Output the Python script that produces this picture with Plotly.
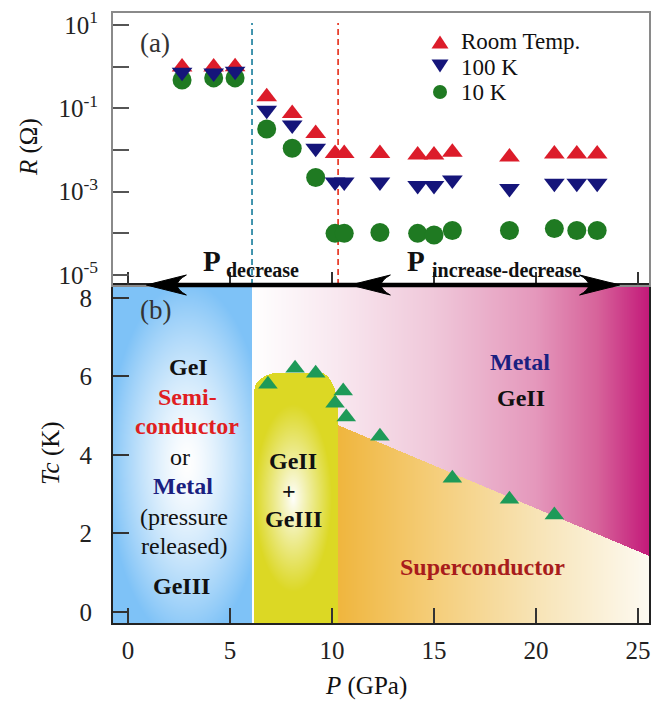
import base64, struct, zlib
import numpy as np
import plotly.graph_objects as go

# ---------------- data ----------------
P_R = [2.65, 4.2, 5.25, 6.8, 8.05, 9.2, 10.15, 10.6, 12.35, 14.2, 15.0, 15.9, 18.7, 20.9, 22.0, 23.0]
R_room = [0.98, 0.98, 1.0, 0.19, 0.075, 0.025, 0.0083, 0.0083, 0.0083, 0.0076, 0.0076, 0.0089, 0.0068, 0.008, 0.008, 0.008]
R_100K = [0.74, 0.71, 0.78, 0.09, 0.04, 0.011, 0.0017, 0.0017, 0.0017, 0.0014, 0.0014, 0.0019, 0.0012, 0.0016, 0.0016, 0.0016]
R_10K = [0.48, 0.54, 0.54, 0.032, 0.011, 0.0022, 1.0e-4, 1.0e-4, 1.05e-4, 1.0e-4, 0.91e-4, 1.17e-4, 1.17e-4, 1.3e-4, 1.17e-4, 1.17e-4]

P_Tc = [6.86, 8.19, 9.2, 10.15, 10.55, 10.7, 12.35, 15.9, 18.7, 20.9]
Tc = [5.80, 6.21, 6.08, 5.32, 5.63, 4.97, 4.48, 3.41, 2.87, 2.47]

x_ticks = [0, 5, 10, 15, 20, 25]
tc_ticks = [0, 2, 4, 6, 8]
r_label_exp = [1, -1, -3, -5]
r_minor_exp = [0, -2, -4]

series_names = ["Room Temp.", "100 K", "10 K"]
series_colors = ["#dc1c2a", "#15157a", "#1f7a22"]

# phase boundaries
P_low = 6.08        # blue dashed line
P_high = 10.3       # red dashed line
SC_line_P = [10.3, 25.54]
SC_line_T = [4.76, 1.43]

# ---------------- geometry ----------------
OFF = 8  # page body margin
XMIN, XMAX = -0.735, 25.54
YMIN2, YMAX2 = -0.28, 8.33
LOGMIN, LOGMAX = -5.24, 1.29
L, R, T, B = 113 - OFF, 13, 13 - OFF, 82
W_FIG, H_FIG = 662 - OFF, 705 - OFF
PW, PH = W_FIG - L - R, H_FIG - T - B
D = (623 - 285) / PH

def fx(px):
    return (px - OFF - L) / PW

def fy(py):
    return (H_FIG - B - (py - OFF)) / PH

SERIF = "Liberation Serif"

# ---------------- background image for panel (b) ----------------
IW, IH = 536, 338
Pg = XMIN + (np.arange(IW) + 0.5) * (XMAX - XMIN) / IW
Tg = YMAX2 - (np.arange(IH) + 0.5) * (YMAX2 - YMIN2) / IH
PP, TT = np.meshgrid(Pg, Tg)

def interp_col(v, stops, cols):
    cols = np.array(cols, float)
    return np.stack([np.interp(v, stops, cols[:, k]) for k in range(3)], axis=-1)

img = interp_col(PP, [6.08, 10.3, 15, 20, 23, 25.54],
                 [(255, 255, 255), (249, 232, 240), (240, 200, 218), (229, 152, 188), (215, 100, 155), (196, 26, 122)])

blue = np.array([126, 194, 247], float)
dB = np.sqrt(((PP - 2.9) / 3.9) ** 2 + ((TT - 3.8) / 4.6) ** 2)
sB = np.clip(dB, 0, 1) ** 1.4
blue_img = 255 + (blue - 255) * sB[..., None]
mB = PP < P_low
img[mB] = blue_img[mB]

Pl, Pr, top = 6.2, 10.3, 6.1
rxl, ryl, rxr, ryr = 1.3, 0.45, 0.9, 1.0
Ttop = np.full_like(PP, top)
lc = PP < Pl + rxl
Ttop[lc] = (top - ryl) + ryl * np.sqrt(np.clip(1 - ((Pl + rxl - PP[lc]) / rxl) ** 2, 0, 1))
rc = PP > Pr - rxr
Ttop[rc] = (top - ryr) + ryr * np.sqrt(np.clip(1 - ((PP[rc] - (Pr - rxr)) / rxr) ** 2, 0, 1))
mY = (PP >= Pl) & (PP <= Pr) & (TT <= Ttop)
yellow = np.array([220, 216, 36], float)
dY = np.sqrt(((PP - 8.1) / 1.9) ** 2 + ((TT - 2.9) / 2.4) ** 2)
sY = np.clip(dY, 0, 1) ** 0.9
yel_img = 255 + (yellow - 255) * sY[..., None]
img[mY] = yel_img[mY]

Tline = np.interp(PP, SC_line_P, SC_line_T)
mO = (PP >= P_high) & (TT <= Tline)
org_img = interp_col(PP, [10.3, 15, 20, 25.54],
                     [(240, 182, 62), (245, 206, 122), (248, 228, 182), (253, 250, 241)])
img[mO] = org_img[mO]

img = np.clip(img, 0, 255).astype(np.uint8)

def to_png(a):
    h, w, _ = a.shape
    raw = b"".join(b"\x00" + a[i].tobytes() for i in range(h))
    def chunk(tag, data):
        c = tag + data
        return struct.pack(">I", len(data)) + c + struct.pack(">I", zlib.crc32(c) & 0xffffffff)
    return (b"\x89PNG\r\n\x1a\n" + chunk(b"IHDR", struct.pack(">IIBBBBB", w, h, 8, 2, 0, 0, 0))
            + chunk(b"IDAT", zlib.compress(raw, 9)) + chunk(b"IEND", b""))

src = "data:image/png;base64," + base64.b64encode(to_png(img)).decode()

# ---------------- figure ----------------
fig = go.Figure()

fig.add_trace(go.Scatter(x=P_R, y=R_room, mode="markers", name=series_names[0], showlegend=False,
                         marker=dict(symbol="triangle-up", size=18, color=series_colors[0]),
                         xaxis="x2", yaxis="y"))
fig.add_trace(go.Scatter(x=P_R, y=R_10K, mode="markers", name=series_names[2], showlegend=False,
                         marker=dict(symbol="circle", size=19, color=series_colors[2]),
                         xaxis="x2", yaxis="y"))
fig.add_trace(go.Scatter(x=P_R, y=R_100K, mode="markers", name=series_names[1], showlegend=False,
                         marker=dict(symbol="triangle-down", size=18, color=series_colors[1]),
                         xaxis="x2", yaxis="y"))
fig.add_trace(go.Scatter(x=P_Tc, y=Tc, mode="markers", showlegend=False,
                         marker=dict(symbol="triangle-up", size=17, color="#1e9a58"),
                         xaxis="x", yaxis="y2"))

axis_font = dict(family=SERIF, size=25, color="#222")

shapes = []
for p, c in [(P_low, "#2f8aa6"), (P_high, "#e8412e")]:
    shapes.append(dict(type="line", xref="x2", yref="paper", x0=p, x1=p, y0=fy(285), y1=fy(23),
                       line=dict(color=c, width=1.8, dash="6px,4px"), layer="below"))
    shapes.append(dict(type="line", xref="x", yref="y2", x0=p, x1=p, y0=YMIN2 + 0.05, y1=YMAX2,
                       line=dict(color=c, width=1.8, dash="6px,4px"), layer="below"))
shapes.append(dict(type="line", xref="x", yref="y2", x0=SC_line_P[0], x1=SC_line_P[1],
                   y0=SC_line_T[0], y1=SC_line_T[1], line=dict(color="#c4c4cc", width=2.5), layer="below"))

ya = fy(285)
shapes.append(dict(type="line", xref="x", yref="paper", x0=1.3, x1=23.8, y0=ya, y1=ya,
                   line=dict(color="black", width=4.5)))
hl = 40 / PW * (XMAX - XMIN)
hh = 10 / PH
def head(tip, direction):
    b = tip + direction * hl
    return f"M{tip},{ya} L{b},{ya + hh} Q{tip + direction * hl * 0.55},{ya} {b},{ya - hh} Z"
for tip, d in [(0.9, 1), (10.9, 1), (24.1, -1)]:
    shapes.append(dict(type="path", xref="x", yref="paper", path=head(tip, d),
                       fillcolor="black", line=dict(color="black", width=1)))

def tri(cx, cy, w, h, up, color):
    x0, x1 = fx(cx - w / 2), fx(cx + w / 2)
    yb, yt = fy(cy + h / 2), fy(cy - h / 2)
    if up:
        path = f"M{x0},{yb} L{x1},{yb} L{fx(cx)},{yt} Z"
    else:
        path = f"M{x0},{yt} L{x1},{yt} L{fx(cx)},{yb} Z"
    return dict(type="path", xref="paper", yref="paper", path=path, fillcolor=color,
                line=dict(color=color, width=0))

leg_rows = [42, 67, 92]
shapes.append(tri(440, leg_rows[0], 17, 13, True, series_colors[0]))
shapes.append(tri(440, leg_rows[1] - 1, 17, 13, False, series_colors[1]))
shapes.append(dict(type="circle", xref="paper", yref="paper", x0=fx(433), x1=fx(447),
                   y0=fy(leg_rows[2] + 7), y1=fy(leg_rows[2] - 7), fillcolor=series_colors[2],
                   line=dict(color=series_colors[2], width=0)))

ann = []
def A(text, px, py, size=24, color="#111", bold=False, angle=0, xanchor="center"):
    t = "<b>" + text + "</b>" if bold else text
    ann.append(dict(text=t, x=fx(px), y=fy(py), xref="paper", yref="paper", showarrow=False,
                    xanchor=xanchor, yanchor="middle", textangle=angle,
                    font=dict(family=SERIF, size=size, color=color)))

for name, row in zip(series_names, leg_rows):
    A(name, 459, row, size=23, color="#111", xanchor="left")

A("(a)", 155, 43, size=27, color="#333")
A("(b)", 155, 310, size=27, color="#333")
A("P", 212, 261, size=29, bold=True)
A("decrease", 224, 270, size=20, bold=True, xanchor="left")
A("P", 416, 261, size=29, bold=True)
A("increase-decrease", 430, 270, size=20, bold=True, xanchor="left")

A("GeI", 188, 367, bold=True)
A("Semi-", 187, 397, color="#e01e22", bold=True)
A("conductor", 187, 426, color="#e01e22", bold=True)
A("or", 180, 457)
A("Metal", 183, 486, color="#1a2080", bold=True)
A("(pressure", 184, 517)
A("released)", 184, 546)
A("GeIII", 181, 586, bold=True)
A("GeII", 293, 461, bold=True)
A("+", 289, 491, bold=True)
A("GeIII", 293, 519, bold=True)
A("Metal", 520, 362, color="#1a2080", bold=True)
A("GeII", 521, 398, bold=True)
A("Superconductor", 482, 567, color="#a81c1c", bold=True)

A("<i>R</i> (Ω)", 29, 147, size=25, angle=-90)
A("<i>Tc</i> (K)", 51, 453, size=25, angle=-90)
A("<i>P</i> (GPa)", 366, 686, size=25)

r_vals = [10.0 ** e for e in r_label_exp]
r_text = ["10<sup>%d</sup>" % e for e in r_label_exp]
r_minor = [10.0 ** e for e in r_minor_exp]

fig.update_layout(
    width=W_FIG, height=H_FIG,
    margin=dict(l=L, r=R, t=T, b=B, autoexpand=False),
    paper_bgcolor="white", plot_bgcolor="rgba(0,0,0,0)",
    font=dict(family=SERIF, color="#222"),
    showlegend=False,
    xaxis=dict(domain=[0, 1], anchor="y2", range=[XMIN, XMAX], tickvals=x_ticks, automargin=False,
               ticks="inside", ticklen=15, tickwidth=1.5, tickcolor="#333", ticklabeloverflow="allow",
               showline=True, mirror=True, linecolor="#222", linewidth=2,
               showgrid=False, zeroline=False, tickfont=axis_font, ticklabelstandoff=4),
    xaxis2=dict(domain=[0, 1], anchor="y", matches="x", range=[XMIN, XMAX], tickvals=x_ticks,
                automargin=False, ticks="inside", ticklen=13, tickwidth=1.5, tickcolor="#333",
                showticklabels=False, showline=True, mirror=True, linecolor="#8a8a8a", linewidth=2,
                showgrid=False, zeroline=False),
    yaxis=dict(domain=[D, 1], anchor="x2", type="log", range=[LOGMIN, LOGMAX], automargin=False,
               tickvals=r_vals, ticktext=r_text, ticks="inside", ticklen=16, tickwidth=1.5,
               tickcolor="#555", showline=True, mirror=True, linecolor="#8a8a8a", linewidth=2,
               ticklabeloverflow="allow",
               minor=dict(tickvals=r_minor, ticks="inside", ticklen=16, tickwidth=1.5, tickcolor="#555",
                          showgrid=False),
               showgrid=False, zeroline=False, tickfont=axis_font, ticklabelstandoff=8),
    yaxis2=dict(domain=[0, D], anchor="x", range=[YMIN2, YMAX2], tickvals=tc_ticks, automargin=False,
                ticks="inside", ticklen=16, tickwidth=1.5, tickcolor="#333", ticklabeloverflow="allow",
                showline=True, mirror=True, linecolor="#222", linewidth=2,
                showgrid=False, zeroline=False, tickfont=axis_font, ticklabelstandoff=14),
    images=[dict(source=src, xref="x", yref="y2", x=XMIN, y=YMAX2, sizex=XMAX - XMIN,
                 sizey=YMAX2 - YMIN2, sizing="stretch", xanchor="left", yanchor="top",
                 layer="below")],
    shapes=shapes,
    annotations=ann,
)

fig.write_html("out.html")
